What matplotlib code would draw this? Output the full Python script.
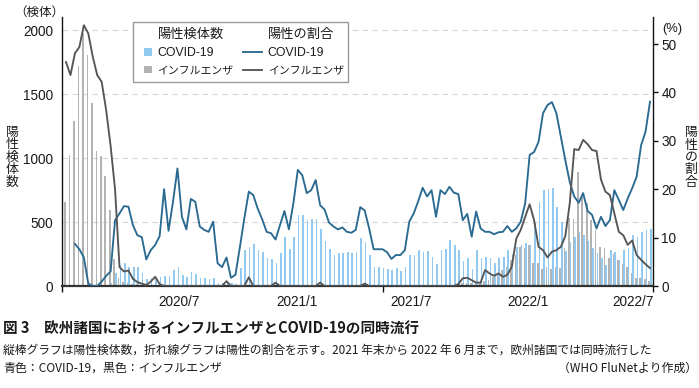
import numpy as np
import matplotlib
matplotlib.use("Agg")
import matplotlib.pyplot as plt
from matplotlib.patches import Rectangle
from matplotlib.lines import Line2D
from matplotlib.legend_handler import HandlerPatch

plt.rcParams['font.family'] = ['Liberation Sans', 'Noto Sans CJK JP']

# ---------------- data (weekly, Jan 2020 - Jun 2022) ----------------
flu_count = [659, 1023, 1291, 1721, 1974, 1805, 1427, 1055, 1016, 861,
             594, 211, 60, 30, 20, 15, 12, 8, 6, 5,
             5, 3, 2, 2, 2, 2, 2, 2, 2, 2,
             2, 2, 2, 2, 2, 2, 3, 2, 2, 2,
             2, 3, 2, 2, 2, 2, 2, 2, 2, 2,
             2, 2, 2, 2, 2, 2, 2, 2, 2, 2,
             2, 2, 2, 2, 2, 2, 2, 2, 2, 2,
             2, 2, 2, 2, 2, 2, 2, 2, 2, 2,
             2, 2, 2, 2, 2, 2, 5, 8, 12, 20,
             25, 22, 28, 34, 40, 47, 73, 100, 125, 151,
             203, 242, 302, 294, 320, 177, 177, 130, 151, 130,
             151, 138, 294, 529, 521, 893, 698, 646, 516, 438,
             307, 294, 220, 250, 203, 170, 151, 99, 65, 60,
             52, 38]

covid_count = [0, 0, 0, 0, 0, 0, 0, 0, 5, 10,
               20, 99, 164, 177, 151, 146, 146, 99, 52, 60,
               60, 73, 78, 78, 125, 146, 86, 73, 112, 94,
               60, 60, 52, 60, 21, 20, 34, 20, 15, 138,
               281, 307, 326, 281, 268, 216, 208, 182, 260, 385,
               286, 385, 555, 555, 516, 523, 523, 445, 354, 286,
               242, 255, 255, 263, 255, 268, 372, 346, 242, 151,
               146, 138, 130, 125, 138, 120, 146, 242, 242, 281,
               268, 273, 224, 170, 281, 289, 359, 320, 281, 198,
               216, 133, 281, 216, 224, 216, 177, 216, 224, 281,
               250, 302, 320, 338, 320, 490, 659, 750, 758, 763,
               620, 502, 270, 346, 380, 420, 400, 350, 300, 260,
               216, 164, 281, 268, 203, 281, 294, 398, 385, 424,
               437, 445]

covid_pct = [np.nan, np.nan, 8.7, 7.6, 5.9, 0.5, 0.0, 0.0, 0.9, 2.1,
             3.0, 13.6, 15.0, 16.5, 16.4, 12.6, 10.5, 10.1, 5.5, 7.4,
             8.5, 10.3, 20.0, 11.4, 17.4, 24.3, 14.3, 11.7, 18.0, 17.4,
             12.3, 11.6, 11.2, 13.3, 4.7, 3.9, 5.9, 1.7, 2.3, 8.0,
             14.0, 19.5, 18.8, 16.0, 13.8, 11.2, 10.9, 9.6, 12.6, 15.5,
             11.7, 17.1, 24.0, 22.9, 19.2, 19.8, 21.9, 16.7, 15.8, 13.1,
             12.3, 11.7, 12.1, 11.2, 11.0, 11.6, 16.3, 15.6, 11.9, 7.6,
             7.6, 7.6, 7.0, 5.6, 6.4, 6.4, 7.4, 13.3, 15.0, 17.5,
             20.3, 18.5, 19.8, 14.3, 19.8, 19.0, 20.5, 19.3, 19.0, 13.6,
             14.9, 10.2, 15.4, 11.9, 11.2, 11.2, 10.7, 11.1, 11.2, 12.4,
             11.2, 11.9, 13.3, 17.1, 27.1, 27.7, 29.8, 35.7, 37.4, 38.0,
             35.7, 30.8, 26.0, 21.5, 18.5, 17.2, 19.2, 15.5, 14.7, 11.9,
             14.3, 12.4, 13.6, 19.8, 17.8, 15.7, 18.1, 20.2, 22.6, 29.1,
             31.9, 38.1]

flu_pct = [46.3, 43.6, 48.1, 49.4, 53.9, 52.2, 47.4, 43.6, 42.2, 36.4,
           29.0, 20.0, 3.9, 3.0, 3.2, 1.5, 0.8, 0.5, 0.2, 0.9,
           1.9, 0.4, 0, 0, 0, 0, 0, 0, 0, 0,
           0, 0, 0, 0, 0, 0, 1.0, 0, 0, 0,
           0, 1.8, 0, 0, 0, 0, 0, 0.7, 0, 0,
           0, 0, 0, 0, 0, 0, 0, 0.7, 0, 0,
           0, 0, 0, 0, 0, 0, 0, 0.5, 0, 0,
           0, 0, 0, 0, 0, 0, 0, 0, 0, 0,
           0, 0, 0, 0, 0, 0, 0, 0, 0.4, 1.6,
           1.7, 1.2, 0.7, 0.7, 3.3, 2.6, 2.1, 2.6, 1.9, 2.3,
           4.0, 9.8, 11.6, 14.3, 16.9, 13.6, 8.1, 7.4, 5.9, 7.1,
           7.4, 8.1, 10.3, 17.1, 28.3, 28.1, 30.2, 29.3, 28.1, 27.9,
           22.0, 19.5, 18.8, 15.0, 11.2, 10.5, 8.5, 9.4, 6.4, 5.4,
           4.5, 3.7]

xtick_labels = ['2020/7', '2021/1', '2021/7', '2022/1', '2022/7']
xtick_pos = [25.3, 51.8, 77.4, 103.7, 127.1]
left_ticks = [0, 500, 1000, 1500, 2000]
right_ticks = [0, 10, 20, 30, 40, 50]

# ---------------- style ----------------
BLUE_BAR = '#92c9f0'
GRAY_BAR = '#b3b3b3'
BLUE_LINE = '#2a6a91'
GRAY_LINE = '#555555'
TXT = '#1a1a1a'

weeks = np.arange(len(flu_count))

W, H = 699, 388
fig = plt.figure(figsize=(W / 100, H / 100), dpi=100)
L, R, B, T = 62 / W, 653 / W, 1 - 286 / H, 1 - 17 / H
ax = fig.add_axes([L, B, R - L, T - B])
ax2 = ax.twinx()

ax.bar(weeks - 0.19, flu_count, width=0.36, color=GRAY_BAR, zorder=2, linewidth=0)
ax.bar(weeks + 0.19, covid_count, width=0.36, color=BLUE_BAR, zorder=2, linewidth=0)
ax.set_xlim(-0.9, 131.67)
ax.set_ylim(0, 2102)
ax.set_yticks(left_ticks)
ax.yaxis.grid(True, linestyle=(0, (5, 4)), color='#d6d6d6', linewidth=0.8)
ax.set_axisbelow(True)

ln_c, = ax2.plot(weeks, covid_pct, color=BLUE_LINE, lw=1.35, zorder=3)
ln_f, = ax2.plot(weeks, flu_pct, color=GRAY_LINE, lw=1.35, zorder=3)
ax2.set_ylim(0, 55.6)
ax2.set_yticks(right_ticks)

for s in ['top', 'right']:
    ax.spines[s].set_visible(False)
for s in ['top', 'left', 'bottom']:
    ax2.spines[s].set_visible(False)
ax.spines['left'].set_color('#111111')
ax.spines['left'].set_linewidth(1.0)
ax.spines['bottom'].set_color('#333333')
ax.spines['bottom'].set_linewidth(1.6)
ax2.spines['right'].set_color('#111111')
ax2.spines['right'].set_linewidth(1.0)

ax.tick_params(axis='y', length=0, pad=6.5, labelsize=9.8, colors=TXT)
ax2.tick_params(axis='y', length=3.6, width=1.0, pad=2.5, labelsize=9.8, colors=TXT)
ax2.tick_params(axis='y', color='#111111')

ax.set_xticks(xtick_pos)
ax.set_xticklabels(xtick_labels)
ax.tick_params(axis='x', which='major', length=0, pad=6.5, labelsize=9.8, colors=TXT)
ax.set_xticks([-0.9, 71.1, 131.67], minor=True)
ax.tick_params(axis='x', which='minor', length=4, width=1.0, color='#111111')

# axis captions
fig.text(14 / W, 1 - 13 / H, '（検体）', ha='left', va='center', fontsize=9, color=TXT)
fig.text(672 / W, 1 - 29 / H, '(%)', ha='center', va='center', fontsize=9.3, color=TXT)
fig.text(12 / W, 1 - 158 / H, '陽\n性\n検\n体\n数', ha='center', va='center',
         fontsize=9.3, linespacing=1.05, color=TXT)
fig.text(691 / W, 1 - 158 / H, '陽\n性\nの\n割\n合', ha='center', va='center',
         fontsize=9.3, linespacing=1.05, color=TXT)

# legend
def square_patch(legend, orig_handle, xdescent, ydescent, width, height, fontsize):
    s = 5.4
    return Rectangle((-xdescent + width - s, -ydescent + (height - s) / 2), s, s)

blank1 = Rectangle((0, 0), 1, 1, facecolor='none', edgecolor='none')
blank2 = Rectangle((0, 0), 1, 1, facecolor='none', edgecolor='none')
p_c = Rectangle((0, 0), 1, 1, facecolor=BLUE_BAR, edgecolor='none')
p_f = Rectangle((0, 0), 1, 1, facecolor=GRAY_BAR, edgecolor='none')
handles = [blank1, p_c, p_f, blank2, ln_c, ln_f]
labels = ['陽性検体数', 'COVID-19', 'インフルエンザ', '陽性の割合', 'COVID-19', 'インフルエンザ']
leg = ax2.legend(handles, labels, ncol=2, loc='upper left',
                 bbox_to_anchor=(133 / W, 1 - 29 / H), bbox_transform=fig.transFigure,
                 frameon=False, fontsize=8.8, handlelength=1.55, handletextpad=0.45,
                 columnspacing=0.8, labelspacing=0.5, borderpad=0, borderaxespad=0,
                 handler_map={Rectangle: HandlerPatch(patch_func=square_patch)})
leg.set_zorder(6)
sizes = [9.5, 8.8, 7.8, 9.5, 8.8, 7.8]
for t, fs in zip(leg.get_texts(), sizes):
    t.set_color(TXT)
    t.set_fontsize(fs)
frame = Rectangle((133 / W, 1 - 82 / H), 215 / W, 60 / H, transform=fig.transFigure,
                  facecolor='white', edgecolor='#9a9a9a', linewidth=1.0, zorder=5,
                  clip_on=False)
ax2.add_artist(frame)

# figure caption
CAP = ['Noto Sans CJK JP']
fig.text(3 / W, 1 - 328 / H, '図 3　欧州諸国におけるインフルエンザとCOVID-19の同時流行',
         ha='left', va='center', fontsize=10.5, fontweight='bold', family=CAP, color=TXT)
fig.text(3 / W, 1 - 350 / H,
         '縦棒グラフは陽性検体数，折れ線グラフは陽性の割合を示す。2021 年末から 2022 年 6 月まで，欧州諸国では同時流行した',
         ha='left', va='center', fontsize=8.5, family=CAP, color=TXT)
fig.text(3 / W, 1 - 368 / H, '青色：COVID-19，黒色：インフルエンザ',
         ha='left', va='center', fontsize=8.6, family=CAP, color=TXT)
fig.text(697 / W, 1 - 368 / H, '（WHO FluNetより作成）',
         ha='right', va='center', fontsize=8.6, family=CAP, color=TXT)

fig.savefig('out.png', dpi=100)
